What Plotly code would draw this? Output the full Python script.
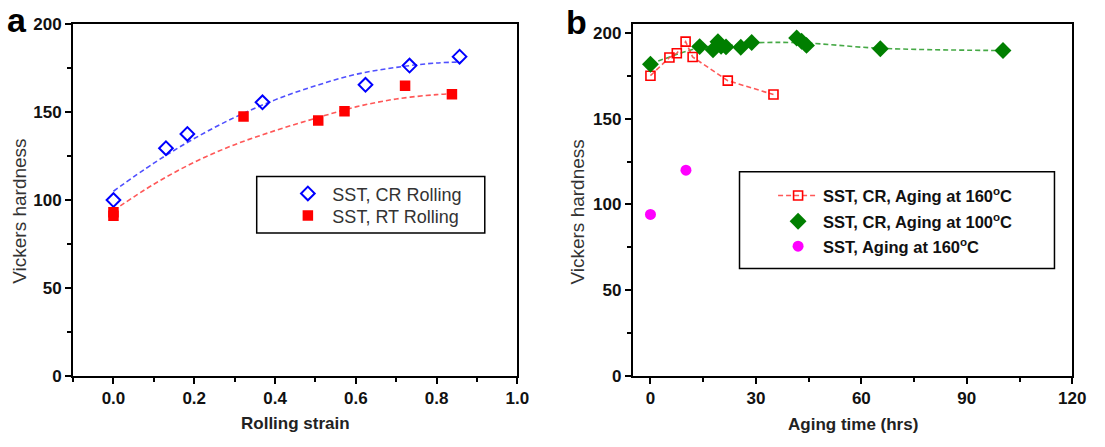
import plotly.graph_objects as go

W, H = 1105, 447

# ---------------- Panel (a) data ----------------
cr_strain = [0.0, 0.13, 0.183, 0.369, 0.624, 0.733, 0.857]
cr_hv = [100, 129.5, 137.6, 155.6, 165.6, 176.5, 181.6]
rt_strain = [0.0, 0.0, 0.322, 0.507, 0.572, 0.722, 0.838]
rt_hv = [91, 93, 147.5, 145.3, 150.5, 165.1, 160.2]
# dashed trend curves
cr_fit_x = [0.0, 0.1, 0.2, 0.3, 0.4, 0.5, 0.6, 0.7, 0.8, 0.86]
cr_fit_y = [105, 121, 135, 147, 157, 165, 171.5, 175.5, 178, 178.5]
rt_fit_x = [0.0, 0.1, 0.2, 0.3, 0.4, 0.5, 0.6, 0.7, 0.8, 0.84]
rt_fit_y = [94, 109, 121.5, 131.5, 139.5, 146.5, 153, 157.5, 160, 160.5]

# ---------------- Panel (b) data ----------------
cr160_t = [0, 5.4, 7.5, 10.0, 12.0, 22.0, 35.0]
cr160_hv = [175.2, 185.8, 188.3, 195.1, 186.1, 172.3, 164.2]
cr100_t = [0, 14.0, 17.8, 19.2, 20.1, 21.5, 25.7, 28.8, 41.6, 43.0, 44.4, 65.4, 100.3]
cr100_hv = [181.9, 192.2, 190.3, 195.0, 192.4, 192.0, 191.8, 194.6, 197.2, 195.3, 192.9, 190.9, 189.9]
cr100_line_t = [0, 14.0, 21.5, 28.8, 43.0, 65.4, 100.3]
cr100_line_hv = [182, 191.5, 192.6, 194.3, 194.4, 191.2, 189.9]
sst160_t = [0, 10.1]
sst160_hv = [94.2, 120.0]

x_ticks_a = [0.0, 0.2, 0.4, 0.6, 0.8, 1.0]
x_ticks_b = [0, 30, 60, 90, 120]
y_ticks = [0, 50, 100, 150, 200]

FONT = "Liberation Sans, Arial, sans-serif"


def px(x):
    return x / W


def py(y):
    return 1 - y / H


fig = go.Figure()

dash = "5px,3px"

# panel a
fig.add_trace(go.Scatter(x=cr_fit_x, y=cr_fit_y, mode="lines", line=dict(color="rgba(60,60,255,0.9)", width=1.6, dash=dash, shape="spline"),
                         showlegend=False, xaxis="x", yaxis="y", hoverinfo="skip"))
fig.add_trace(go.Scatter(x=rt_fit_x, y=rt_fit_y, mode="lines", line=dict(color="rgba(255,70,70,0.9)", width=1.6, dash=dash, shape="spline"),
                         showlegend=False, xaxis="x", yaxis="y", hoverinfo="skip"))
fig.add_trace(go.Scatter(x=cr_strain, y=cr_hv, mode="markers", name="SST, CR Rolling",
                         marker=dict(symbol="diamond-open", size=10.5, color="#0000ff", line=dict(width=2, color="#0000ff")),
                         xaxis="x", yaxis="y", legend="legend"))
fig.add_trace(go.Scatter(x=rt_strain, y=rt_hv, mode="markers", name="SST, RT Rolling",
                         marker=dict(symbol="square", size=10.5, color="#ff0000"),
                         xaxis="x", yaxis="y", legend="legend2"))

# panel b
fig.add_trace(go.Scatter(x=cr100_line_t, y=cr100_line_hv, mode="lines", line=dict(color="rgba(50,160,50,0.9)", width=1.6, dash=dash, shape="spline"),
                         showlegend=False, xaxis="x2", yaxis="y2", hoverinfo="skip"))
fig.add_trace(go.Scatter(x=cr160_t, y=cr160_hv, mode="lines+markers", name="SST, CR, Aging at 160<sup>o</sup>C",
                         line=dict(color="rgba(255,70,70,0.9)", width=1.6, dash=dash),
                         marker=dict(symbol="square-open", size=9, color="#ff0000", line=dict(width=1.6, color="#ff0000")),
                         xaxis="x2", yaxis="y2", legend="legend3"))
fig.add_trace(go.Scatter(x=cr100_t, y=cr100_hv, mode="markers", name="SST, CR, Aging at 100<sup>o</sup>C",
                         marker=dict(symbol="diamond", size=13, color="#007f00"),
                         xaxis="x2", yaxis="y2", legend="legend4"))
fig.add_trace(go.Scatter(x=sst160_t, y=sst160_hv, mode="markers", name="SST, Aging at 160<sup>o</sup>C",
                         marker=dict(symbol="circle", size=11, color="#ff00ff"),
                         xaxis="x2", yaxis="y2", legend="legend5"))

tickfont = dict(family=FONT, size=17, color="#111111", weight="bold")
axis_common = dict(showline=True, linecolor="black", linewidth=2, mirror=True, ticks="outside", ticklen=6, tickwidth=1.5,
                   tickcolor="black", showgrid=False, zeroline=False, tickfont=tickfont)

fig.update_layout(
    width=W, height=H, margin=dict(l=0, r=0, t=0, b=0),
    paper_bgcolor="white", plot_bgcolor="white",
    xaxis=dict(domain=[px(74), px(524)], range=[-0.1, 1.0], tickvals=x_ticks_a, tickformat=".1f", anchor="y",
               minor=dict(dtick=0.1, ticks="outside", ticklen=4, tickwidth=1.5, tickcolor="black"), **axis_common),
    yaxis=dict(domain=[py(383), py(16)], range=[0, 200], tickvals=y_ticks, anchor="x",
               minor=dict(dtick=25, ticks="outside", ticklen=4, tickwidth=1.5, tickcolor="black"), **axis_common),
    xaxis2=dict(domain=[px(641), px(1086)], range=[-5, 120], tickvals=x_ticks_b, anchor="y2",
                minor=dict(dtick=15, ticks="outside", ticklen=4, tickwidth=1.5, tickcolor="black"), **axis_common),
    yaxis2=dict(domain=[py(383), py(16)], range=[0, 205.2], tickvals=y_ticks, anchor="x2",
                minor=dict(dtick=25, ticks="outside", ticklen=4, tickwidth=1.5, tickcolor="black"), **axis_common),
)

leg_a_font = dict(family=FONT, size=18, color="#333333")
leg_b_font = dict(family=FONT, size=16.5, color="#111111", weight="bold")


def leg(sym_x, sym_y, font, iw):
    return dict(x=px(sym_x - 20), y=py(sym_y), xanchor="left", yanchor="middle", bgcolor="rgba(0,0,0,0)",
                borderwidth=0, font=font, itemwidth=iw)


fig.update_layout(
    legend=leg(307, 193, leg_a_font, 39),
    legend2=leg(307, 216, leg_a_font, 39),
    legend3=leg(803, 195, leg_b_font, 40),
    legend4=leg(803, 222, leg_b_font, 40),
    legend5=leg(803, 248, leg_b_font, 40),
)

fig.add_shape(type="rect", xref="paper", yref="paper", x0=px(260), x1=px(491), y0=py(175), y1=py(234),
              line=dict(color="black", width=1.5))
fig.add_shape(type="rect", xref="paper", yref="paper", x0=px(749), x1=px(1068), y0=py(170), y1=py(271),
              line=dict(color="black", width=1.5))

ann = []
ann.append(dict(text="Rolling strain", x=px(299), y=py(433), xref="paper", yref="paper", showarrow=False,
                xanchor="center", yanchor="middle", font=dict(family=FONT, size=17, color="#222222", weight="bold")))
ann.append(dict(text="Aging time (hrs)", x=px(864), y=py(434), xref="paper", yref="paper", showarrow=False,
                xanchor="center", yanchor="middle", font=dict(family=FONT, size=17, color="#222222", weight="bold")))
ann.append(dict(text="Vickers hardness", x=px(19), y=py(211), xref="paper", yref="paper", showarrow=False, textangle=-90,
                xanchor="center", yanchor="middle", font=dict(family=FONT, size=19, color="#333333")))
ann.append(dict(text="Vickers hardness", x=px(585), y=py(212), xref="paper", yref="paper", showarrow=False, textangle=-90,
                xanchor="center", yanchor="middle", font=dict(family=FONT, size=19, color="#333333")))
ann.append(dict(text="a", x=px(17), y=py(12), xref="paper", yref="paper", showarrow=False,
                xanchor="center", yanchor="middle", font=dict(family=FONT, size=34, color="black", weight="bold")))
ann.append(dict(text="b", x=px(584), y=py(14), xref="paper", yref="paper", showarrow=False,
                xanchor="center", yanchor="middle", font=dict(family=FONT, size=34, color="black", weight="bold")))
fig.update_layout(annotations=ann)

fig.write_html("out.html", config={"displayModeBar": False},
               post_script="document.body.style.margin='0px';")
